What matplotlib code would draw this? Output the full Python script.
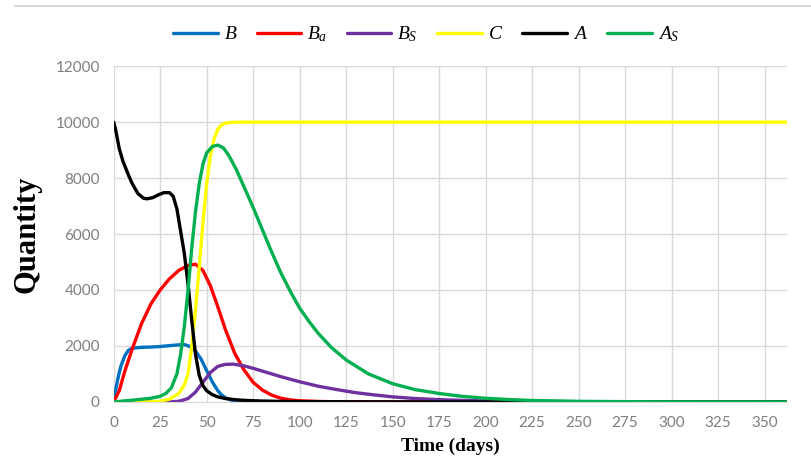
import matplotlib.pyplot as plt

# days / values
b_t = [0, 1, 2, 3, 4, 6, 8, 10, 15, 20, 25, 30, 35, 38, 41, 44, 47, 50, 53, 56, 58, 60, 63, 66, 70, 75, 80, 365]
b_v = [0, 400, 750, 1050, 1300, 1650, 1850, 1920, 1950, 1960, 1980, 2010, 2040, 2050, 1980, 1820, 1530, 1120, 720, 400, 250, 150, 70, 30, 12, 4, 0, 0]

ba_t = [0, 3, 6, 10, 15, 20, 25, 30, 35, 40, 44, 48, 52, 56, 60, 65, 70, 75, 80, 85, 90, 95, 100, 110, 120, 150, 365]
ba_v = [0, 400, 1100, 1900, 2800, 3500, 4000, 4400, 4700, 4880, 4920, 4700, 4150, 3400, 2600, 1750, 1150, 700, 420, 240, 130, 70, 40, 15, 5, 0, 0]

bs_t = [0, 30, 35, 40, 44, 48, 52, 56, 60, 64, 70, 75, 80, 90, 100, 110, 120, 130, 140, 150, 162, 175, 187, 200, 225, 250, 300, 365]
bs_v = [0, 0, 20, 120, 350, 700, 1050, 1270, 1340, 1350, 1290, 1200, 1100, 900, 720, 560, 440, 330, 250, 180, 120, 80, 55, 35, 15, 5, 0, 0]

c_t = [0, 20, 25, 30, 35, 38, 40, 42, 44, 46, 48, 50, 52, 54, 56, 58, 60, 65, 365]
c_v = [0, 5, 20, 100, 300, 600, 1000, 2000, 3300, 4800, 6400, 7800, 8800, 9400, 9750, 9900, 9970, 10000, 10000]

a_t = [0, 1, 2, 3, 5, 8, 10, 13, 16, 18, 21, 24, 27, 30, 32, 34, 36, 38, 40, 42, 44, 46, 48, 50, 53, 56, 60, 65, 70, 80, 90, 100, 150, 365]
a_v = [10000, 9750, 9400, 9050, 8600, 8100, 7800, 7450, 7280, 7260, 7300, 7400, 7480, 7480, 7350, 6900, 6100, 5300, 4200, 2900, 1700, 950, 580, 400, 260, 180, 120, 80, 55, 30, 18, 10, 0, 0]

as_t = [0, 10, 20, 25, 28, 31, 34, 36, 38, 40, 42, 44, 46, 48, 50, 53, 56, 59, 62, 66, 70, 75, 80, 85, 90, 95, 100, 105, 110, 117, 125, 137, 150, 162, 175, 187, 200, 212, 225, 250, 275, 300, 365]
as_v = [0, 60, 130, 200, 300, 500, 1000, 1700, 2700, 4000, 5500, 6800, 7800, 8500, 8900, 9130, 9180, 9080, 8800, 8300, 7700, 6950, 6150, 5350, 4600, 3950, 3350, 2880, 2450, 1950, 1500, 1000, 650, 440, 300, 200, 130, 85, 50, 20, 8, 2, 0]

series = [
    (b_t, b_v, '#0070C0', '$B$'),
    (ba_t, ba_v, '#FF0000', '$B_a$'),
    (bs_t, bs_v, '#7030A0', '$B_S$'),
    (c_t, c_v, '#FFFF00', '$C$'),
    (a_t, a_v, '#000000', '$A$'),
    (as_t, as_v, '#00B050', '$A_S$'),
]

plt.rcParams['mathtext.fontset'] = 'custom'
plt.rcParams['mathtext.it'] = 'Liberation Serif:italic'
plt.rcParams['mathtext.rm'] = 'Liberation Serif'

fig = plt.figure(figsize=(8.12, 4.63), dpi=100)
ax = fig.add_axes([0.140, 0.132, 0.829, 0.725])

for t, v, col, lab in series:
    ax.plot(t, v, color=col, lw=2.4, label=lab, solid_capstyle='round', solid_joinstyle='round')

ax.set_xlim(0, 362)
ax.set_ylim(0, 12000)
ax.set_xticks(range(0, 351, 25))
ax.set_yticks(range(0, 12001, 2000))
ax.grid(True, color='#d9d9d9', lw=1)
ax.set_axisbelow(True)
for s in ['top', 'right', 'left']:
    ax.spines[s].set_visible(False)
ax.spines['bottom'].set_color('#d9d9d9')
ax.tick_params(length=0, labelsize=11, labelcolor='#7f7f7f', pad=10)
for lbl in ax.get_xticklabels() + ax.get_yticklabels():
    lbl.set_family('Lato')

ax.set_xlabel('Time (days)', family='Liberation Serif', fontweight='bold', fontsize=14, labelpad=6)
ax.set_ylabel('Quantity', family='Liberation Serif', fontweight='bold', fontsize=22, labelpad=10)

fig.legend(loc='upper center', bbox_to_anchor=(0.525, 0.985), ncol=6, frameon=False,
           fontsize=14, handlelength=2.3, columnspacing=1.0, handletextpad=0.3)

# thin border line across the top of the chart area
fig.add_artist(plt.Line2D([0.018, 1.0], [0.987, 0.987], color='#d9d9d9', lw=1.5))

fig.savefig('out.png', dpi=100)
